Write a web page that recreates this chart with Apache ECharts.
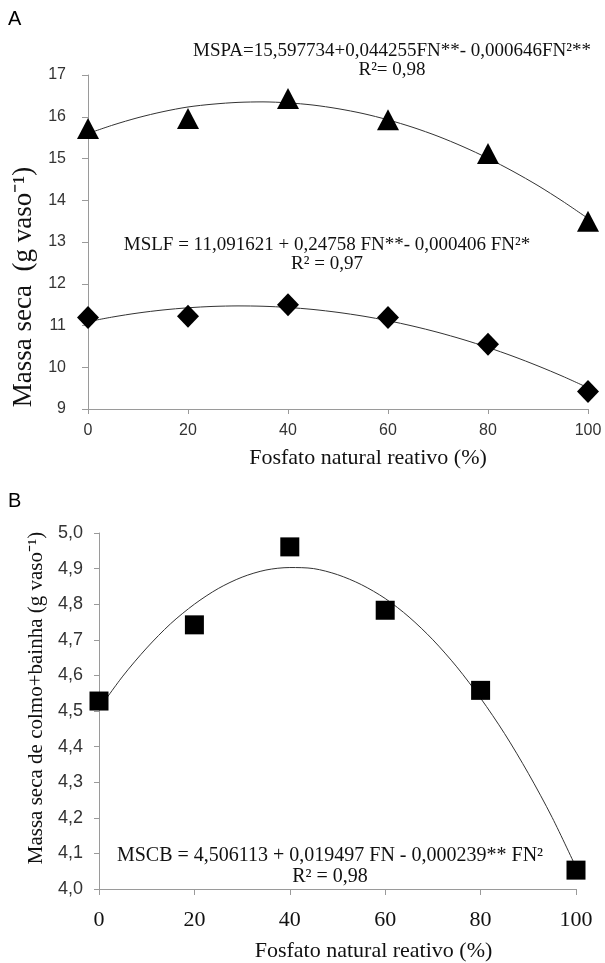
<!DOCTYPE html>
<html>
<head>
<meta charset="utf-8">
<script src="https://cdn.jsdelivr.net/npm/echarts@6/dist/echarts.min.js"></script>
<style>
  html, body { margin: 0; padding: 0; background: #fff; }
  #main { width: 605px; height: 963px; }
</style>
</head>
<body>
<div id="main"></div>
<script>
// níveis de fosfato natural reativo (%)
var fnLevels = [0, 20, 40, 60, 80, 100];
var mspaObs = [15.72, 15.96, 16.44, 15.93, 15.12, 13.50];
var mslfObs = [11.19, 11.22, 11.50, 11.19, 10.55, 9.42];
var mscbObs = [4.528, 4.742, 4.961, 4.783, 4.558, 4.053];
// curvas ajustadas (a cada 5 %)
var fitX = [0, 5, 10, 15, 20, 25, 30, 35, 40, 45, 50, 55, 60, 65, 70, 75, 80, 85, 90, 95, 100];
var mspaFit = [15.598, 15.802, 15.978, 16.122, 16.234, 16.302, 16.344, 16.356, 16.333, 16.280, 16.193,
  16.077, 15.926, 15.745, 15.532, 15.284, 15.005, 14.692, 14.350, 13.971, 13.563];
var mslfFit = [11.092, 11.205, 11.299, 11.372, 11.424, 11.457, 11.469, 11.461, 11.432, 11.384, 11.314,
  11.225, 11.115, 10.985, 10.835, 10.665, 10.474, 10.263, 10.031, 9.780, 9.508];
var mscbFit = [4.506, 4.598, 4.677, 4.745, 4.800, 4.844, 4.876, 4.896, 4.903, 4.900, 4.883,
  4.855, 4.816, 4.764, 4.700, 4.624, 4.536, 4.437, 4.325, 4.201, 4.061];

function pairs(xs, ys) {
  return xs.map(function (x, i) { return [x, ys[i]]; });
}

var serif = 'Liberation Serif';
var sans = 'Liberation Sans';
var axisGray = '#9a9a9a';

var myChart = echarts.init(document.getElementById('main'));

myChart.setOption({
  animation: false,
  backgroundColor: '#fff',
  grid: [
    { left: 88, top: 75, width: 500, height: 334 },
    { left: 99, top: 533, width: 477, height: 360 }
  ],
  xAxis: [{
    gridIndex: 0,
    type: 'value',
    min: 0, max: 100, interval: 20,
    axisLine: { lineStyle: { color: axisGray } },
    axisTick: { length: 5, lineStyle: { color: axisGray } },
    splitLine: { show: false },
    axisLabel: { margin: 14, fontFamily: sans, fontSize: 16, color: '#333' },
    name: 'Fosfato natural reativo (%)',
    nameLocation: 'middle',
    nameGap: 38,
    nameTextStyle: { fontFamily: serif, fontSize: 22, color: '#111', padding: [0, 0, 0, 60] }
  }, {
    gridIndex: 1,
    type: 'value',
    min: 0, max: 100, interval: 20,
    axisLine: { lineStyle: { color: axisGray } },
    axisTick: { length: 6, lineStyle: { color: axisGray } },
    splitLine: { show: false },
    axisLabel: { margin: 20, fontFamily: serif, fontSize: 22, color: '#111' },
    name: 'Fosfato natural reativo (%)',
    nameLocation: 'middle',
    nameGap: 51,
    nameTextStyle: { fontFamily: serif, fontSize: 22, color: '#111', padding: [0, 0, 0, 72] }
  }],
  yAxis: [{
    gridIndex: 0,
    type: 'value',
    min: 9, max: 17, interval: 1,
    axisLine: { show: true, lineStyle: { color: axisGray } },
    axisTick: { show: true, length: 6, lineStyle: { color: axisGray } },
    splitLine: { show: false },
    axisLabel: { margin: 22, fontFamily: sans, fontSize: 16, color: '#333' },
    name: 'Massa seca  (g vaso\u207B\u00B9)',
    nameLocation: 'middle',
    nameGap: 40,
    nameTextStyle: { fontFamily: serif, fontSize: 27, color: '#111', padding: [0, 90, 0, 0] }
  }, {
    gridIndex: 1,
    type: 'value',
    min: 4, max: 5, interval: 0.1,
    axisLine: { show: true, lineStyle: { color: axisGray } },
    axisTick: { show: true, length: 5, lineStyle: { color: axisGray } },
    splitLine: { show: false },
    axisLabel: {
      margin: 16, fontFamily: sans, fontSize: 18, color: '#333',
      formatter: function (v) { return v.toFixed(1).replace('.', ','); }
    },
    name: 'Massa seca de colmo+bainha (g vaso\u207B\u00B9)',
    nameLocation: 'middle',
    nameGap: 49,
    nameTextStyle: { fontFamily: serif, fontSize: 21, color: '#111', padding: [0, 0, 0, 26] }
  }],
  series: [{
    name: 'MSPA ajuste',
    type: 'line',
    xAxisIndex: 0, yAxisIndex: 0,
    smooth: 0.3,
    symbol: 'none',
    lineStyle: { color: '#333', width: 1 },
    data: pairs(fitX, mspaFit)
  }, {
    name: 'MSLF ajuste',
    type: 'line',
    xAxisIndex: 0, yAxisIndex: 0,
    smooth: 0.3,
    symbol: 'none',
    lineStyle: { color: '#333', width: 1 },
    data: pairs(fitX, mslfFit)
  }, {
    name: 'MSCB ajuste',
    type: 'line',
    xAxisIndex: 1, yAxisIndex: 1,
    smooth: 0.3,
    symbol: 'none',
    lineStyle: { color: '#333', width: 1 },
    data: pairs(fitX, mscbFit)
  }, {
    name: 'MSPA',
    type: 'scatter',
    xAxisIndex: 0, yAxisIndex: 0,
    symbol: 'triangle',
    symbolSize: [22, 21],
    itemStyle: { color: '#000', opacity: 1 },
    z: 5,
    data: pairs(fnLevels, mspaObs)
  }, {
    name: 'MSLF',
    type: 'scatter',
    xAxisIndex: 0, yAxisIndex: 0,
    symbol: 'diamond',
    symbolSize: [22, 23],
    itemStyle: { color: '#000', opacity: 1 },
    z: 5,
    data: pairs(fnLevels, mslfObs)
  }, {
    name: 'MSCB',
    type: 'scatter',
    xAxisIndex: 1, yAxisIndex: 1,
    symbol: 'rect',
    symbolSize: 19,
    itemStyle: { color: '#000', opacity: 1 },
    z: 5,
    data: pairs(fnLevels, mscbObs)
  }],
  graphic: [{
    type: 'text', left: 8, top: 9,
    style: { text: 'A', font: '20px "Liberation Sans"', fill: '#000' }
  }, {
    type: 'text', left: 8, top: 491,
    style: { text: 'B', font: '20px "Liberation Sans"', fill: '#000' }
  }, {
    type: 'text', x: 392, y: 61,
    style: {
      text: 'MSPA=15,597734+0,044255FN**- 0,000646FN\u00B2**\nR\u00B2= 0,98',
      font: '19px "Liberation Serif"', fill: '#111',
      align: 'center', verticalAlign: 'middle', lineHeight: 19
    }
  }, {
    type: 'text', x: 327, y: 255,
    style: {
      text: 'MSLF = 11,091621 + 0,24758 FN**- 0,000406 FN\u00B2*\nR\u00B2 = 0,97',
      font: '19px "Liberation Serif"', fill: '#111',
      align: 'center', verticalAlign: 'middle', lineHeight: 19
    }
  }, {
    type: 'text', x: 330, y: 866,
    style: {
      text: 'MSCB = 4,506113 + 0,019497 FN - 0,000239** FN\u00B2\nR\u00B2 = 0,98',
      font: '20px "Liberation Serif"', fill: '#111',
      align: 'center', verticalAlign: 'middle', lineHeight: 21
    }
  }]
});
</script>
</body>
</html>
